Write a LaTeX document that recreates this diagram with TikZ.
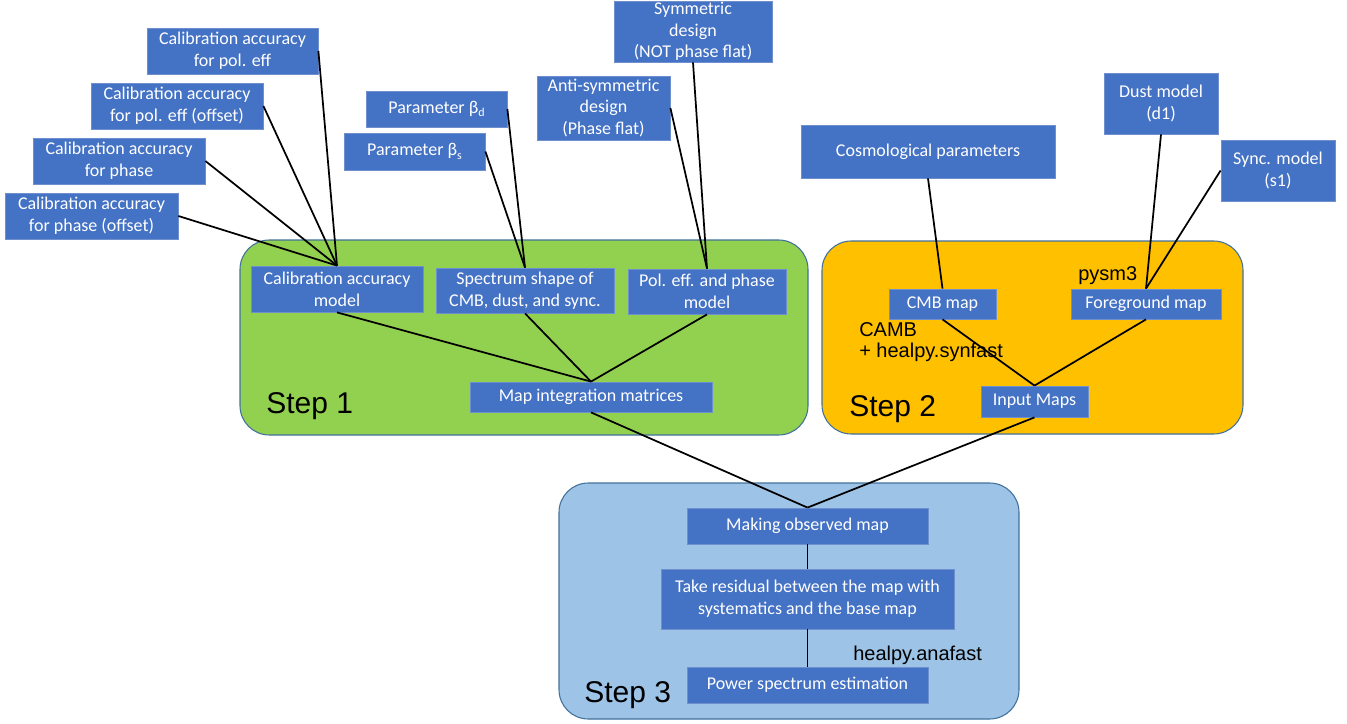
\documentclass[tikz,border=0pt]{standalone}
\usepackage{fontspec}
\setmainfont{Carlito}
\newfontfamily\arialf{Liberation Sans}
\definecolor{boxblue}{HTML}{4472C4}
\definecolor{boxedge}{HTML}{6F8FCF}
\definecolor{stepgreen}{HTML}{92D050}
\definecolor{steporange}{HTML}{FFC000}
\definecolor{stepblue}{HTML}{9DC3E6}
\definecolor{contedge}{HTML}{41719C}
\newcommand{\lsub}[1]{\raisebox{-0.4ex}{\fontsize{9}{9}\selectfont #1}}
\begin{document}
\begin{tikzpicture}[x=0.75pt,y=-0.75pt,
  box/.style={rectangle, fill=boxblue, draw=boxedge, line width=0.6pt, text=white,
    align=center, inner sep=0pt, font=\fontsize{13.5}{16.3}\selectfont},
  sz/.style 2 args={minimum width=#1*0.75pt, minimum height=#2*0.75pt},
  conn/.style={line width=1.3pt, black},
  cont/.style={rounded corners=22pt, draw=contedge, line width=0.8pt},
  steplabel/.style={anchor=base west, inner sep=0pt, font=\arialf\fontsize{22.5}{26}\selectfont},
  tool/.style={inner sep=0pt, align=left, font=\arialf\fontsize{15}{15.75}\selectfont}]
\useasboundingbox (0,0) rectangle (1347,724);
% containers
\fill[stepgreen, cont] (240,240) rectangle (808,435);
\fill[steporange, cont] (822,241) rectangle (1243,434);
\fill[stepblue, cont] (559,483) rectangle (1019,719);
% labels
\node[steplabel] (s1) at (266,413) {Step 1};
\node[steplabel] (s2) at (849,416) {Step 2};
\node[steplabel] (s3) at (584,702) {Step 3};
\node[tool, anchor=base west] (pysm) at (1078,280) {pysm3};
\node[tool, anchor=north west] (camb) at (859,322.5) {CAMB\\+ healpy.synfast};
\node[tool, anchor=base west] (ana) at (853,660) {healpy.anafast};
% boxes
\node[box, sz={171}{46}] (cpe) at (232.5,51) {Calibration accuracy\\for pol. eff};
\node[box, sz={172}{46}] (cpeo) at (177,106) {Calibration accuracy\\for pol. eff (offset)};
\node[box, sz={172}{46}] (cph) at (119,161) {Calibration accuracy\\for phase};
\node[box, sz={173}{46}] (cpho) at (91.5,216) {Calibration accuracy\\for phase (offset)};
\node[box, sz={141}{36}] (bd) at (436.5,109) {Parameter β\lsub{d}};
\node[box, sz={141}{37}] (bs) at (414.5,151.5) {Parameter β\lsub{s}};
\node[box, sz={133}{64}] (anti) at (603.5,108) {Anti-symmetric\\design\\(Phase flat)};
\node[box, sz={158}{61}] (sym) at (693,31.5) {Symmetric\\design\\(NOT phase flat)};
\node[box, sz={172}{46}] (cam) at (337,289) {Calibration accuracy\\model};
\node[box, sz={178}{45}] (spec) at (525,290.5) {Spectrum shape of\\CMB, dust, and sync.};
\node[box, sz={158}{45}] (pol) at (707,291.5) {Pol. eff. and phase\\model};
\node[box, sz={242}{30}] (mim) at (591,397) {Map integration matrices};
\node[box, sz={254}{53}] (cosmo) at (928,151.5) {Cosmological parameters};
\node[box, sz={114}{61}] (dust) at (1161,103.5) {Dust model\\(d1)};
\node[box, sz={114}{61}] (sync) at (1278,170.5) {Sync. model\\(s1)};
\node[box, sz={107}{30}] (cmb) at (942.5,304) {CMB map};
\node[box, sz={150}{30}] (fg) at (1146,304) {Foreground map};
\node[box, sz={107}{31}] (inp) at (1034.5,401.5) {Input Maps};
\node[box, sz={241}{36}] (mom) at (807.5,526) {Making observed map};
\node[box, sz={293}{60}] (res) at (807.5,599) {Take residual between the map with\\systematics and the base map};
\node[box, sz={241}{36}] (pse) at (807.5,685) {Power spectrum estimation};
% connectors
\draw[conn] (cpe.east) -- (cam.north);
\draw[conn] (cpeo.east) -- (cam.north);
\draw[conn] (cph.east) -- (cam.north);
\draw[conn] (cpho.east) -- (cam.north);
\draw[conn] (bd.east) -- (spec.north);
\draw[conn] (bs.east) -- (spec.north);
\draw[conn] (anti.east) -- (pol.north);
\draw[conn] (sym.south) -- (pol.north);
\draw[conn] (cam.south) -- (mim.north);
\draw[conn] (spec.south) -- (mim.north);
\draw[conn] (pol.south) -- (mim.north);
\draw[conn] (cosmo.south) -- (cmb.north);
\draw[conn] (dust.south) -- (fg.north);
\draw[conn] (sync.west) -- (fg.north);
\draw[conn] (cmb.south) -- (inp.north);
\draw[conn] (fg.south) -- (inp.north);
\draw[conn] (mim.south) -- (mom.north);
\draw[conn] (inp.south) -- (mom.north);
\draw[conn] (mom.south) -- (res.north);
\draw[conn] (res.south) -- (pse.north);
\end{tikzpicture}
\end{document}
